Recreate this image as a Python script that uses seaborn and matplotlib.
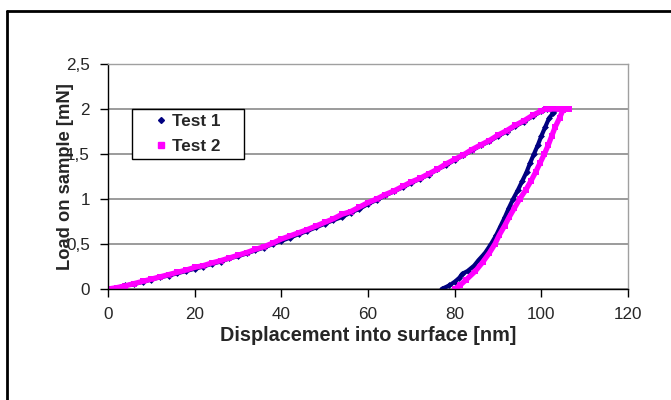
import matplotlib
matplotlib.use("Agg")
import matplotlib.pyplot as plt
from matplotlib.lines import Line2D
import seaborn as sns
import pandas as pd

# Test 1: loading branch, hold at peak load, unloading branch (displacement nm, load mN)
t1_load_x = [0, 2, 4, 6, 8, 10, 12, 14, 16, 18, 20, 22, 24, 26, 28, 30, 32, 34, 36, 38,
             40, 42, 44, 46, 48, 50, 52, 54, 56, 58, 60, 62, 64, 66, 68, 70, 72, 74, 76,
             78, 80, 82, 84, 86, 88, 90, 92, 94, 96, 98, 100, 100.6]
t1_load_y = [0.0, 0.012, 0.04, 0.055, 0.08, 0.105, 0.13, 0.15, 0.175, 0.20, 0.225, 0.25,
             0.28, 0.305, 0.34, 0.365, 0.395, 0.43, 0.46, 0.50, 0.535, 0.57, 0.61, 0.645,
             0.685, 0.725, 0.765, 0.80, 0.85, 0.89, 0.945, 0.99, 1.04, 1.085, 1.13, 1.18,
             1.225, 1.27, 1.33, 1.375, 1.435, 1.485, 1.54, 1.595, 1.64, 1.70, 1.75, 1.81,
             1.86, 1.92, 1.975, 2.0]
t1_hold_x = [101.3, 102.0, 102.7, 103.3]
t1_hold_y = [2.0, 2.0, 2.0, 2.0]
t1_unload_x = [102.8, 101.8, 100.9, 100.0, 99.2, 98.3, 97.4, 96.6, 95.6, 94.6, 93.5, 92.5,
               91.6, 90.6, 89.6, 88.4, 87.0, 85.5, 84.5, 83.0, 81.8, 81.0, 80.0, 78.8, 77.0]
t1_unload_y = [1.96, 1.90, 1.80, 1.70, 1.60, 1.50, 1.40, 1.30, 1.20, 1.10, 1.00, 0.90,
               0.80, 0.70, 0.60, 0.50, 0.40, 0.32, 0.26, 0.20, 0.17, 0.12, 0.08, 0.04, 0.0]

# Test 2
t2_load_x = [0, 2, 4, 6, 8, 10, 12, 14, 16, 18, 20, 22, 24, 26, 28, 30, 32, 34, 36, 38,
             40, 42, 44, 46, 48, 50, 52, 54, 56, 58, 60, 62, 64, 66, 68, 70, 72, 74, 76,
             78, 80, 82, 84, 86, 88, 90, 92, 94, 96, 98, 100, 101.0]
t2_load_y = [0.0, 0.015, 0.035, 0.06, 0.085, 0.11, 0.135, 0.16, 0.185, 0.21, 0.24, 0.26,
             0.29, 0.315, 0.345, 0.375, 0.405, 0.44, 0.47, 0.51, 0.555, 0.59, 0.625, 0.66,
             0.70, 0.74, 0.78, 0.83, 0.86, 0.91, 0.96, 1.00, 1.05, 1.09, 1.14, 1.19, 1.23,
             1.28, 1.33, 1.39, 1.44, 1.49, 1.55, 1.60, 1.65, 1.71, 1.76, 1.82, 1.87, 1.93,
             1.98, 2.0]
t2_hold_x = [102.0, 103.2, 104.3, 105.3, 106.3]
t2_hold_y = [2.0, 2.0, 2.0, 2.0, 2.0]
t2_unload_x = [105.0, 104.2, 103.2, 102.4, 101.6, 100.7, 99.7, 98.7, 97.6, 96.4, 95.0,
               93.8, 92.6, 91.5, 90.3, 89.3, 88.0, 86.5, 84.8, 82.6, 81.2, 80.0]
t2_unload_y = [1.99, 1.90, 1.80, 1.70, 1.60, 1.50, 1.40, 1.30, 1.20, 1.10, 1.00, 0.90,
               0.80, 0.70, 0.60, 0.50, 0.40, 0.30, 0.20, 0.10, 0.04, 0.0]

series_names = ["Test 1", "Test 2"]
x_ticks = [0, 20, 40, 60, 80, 100, 120]
y_ticks = [0, 0.5, 1, 1.5, 2, 2.5]
y_tick_labels = ["0", "0,5", "1", "1,5", "2", "2,5"]

navy = "#000080"
magenta = "#FF00FF"

t1_x = t1_load_x + t1_hold_x + t1_unload_x
t1_y = t1_load_y + t1_hold_y + t1_unload_y
t2_x = t2_load_x + t2_hold_x + t2_unload_x
t2_y = t2_load_y + t2_hold_y + t2_unload_y

df = pd.DataFrame({
    "x": t1_x + t2_x,
    "y": t1_y + t2_y,
    "test": [series_names[0]] * len(t1_x) + [series_names[1]] * len(t2_x),
})

sns.set_style("white")
plt.rcParams["font.family"] = ["Liberation Sans", "DejaVu Sans"]

fig = plt.figure(figsize=(6.71, 4.0), dpi=100)
ax = fig.add_axes([108 / 671, 1 - 289 / 400, 520 / 671, 225 / 400])

# outer chart frame (top and left edges)
fig.add_artist(Line2D([7 / 671, 1.0], [1 - 11 / 400, 1 - 11 / 400], color="black",
                      lw=2, transform=fig.transFigure))
fig.add_artist(Line2D([7 / 671, 7 / 671], [1 - 11 / 400, 0.0], color="black",
                      lw=2, transform=fig.transFigure))

palette = {series_names[0]: navy, series_names[1]: magenta}
for name, lw, ms in [(series_names[0], 3.0, 3.5), (series_names[1], 3.8, 4.2)]:
    sub = df[df["test"] == name]
    sns.lineplot(data=sub, x="x", y="y", sort=False, estimator=None, color=palette[name],
                 lw=lw, ax=ax, legend=False)
    sns.scatterplot(data=sub, x="x", y="y", color=palette[name],
                    marker="D" if name == series_names[0] else "s",
                    s=ms ** 2, linewidth=0, ax=ax, legend=False)

ax.set_xlim(0, 120)
ax.set_ylim(0, 2.5)
ax.set_xticks(x_ticks)
ax.set_xticklabels([str(v) for v in x_ticks])
ax.set_yticks(y_ticks)
ax.set_yticklabels(y_tick_labels)
ax.grid(axis="y", color="#808080", lw=1.1)
ax.set_axisbelow(True)

for side in ["top", "right"]:
    ax.spines[side].set_color("#a0a0a0")
    ax.spines[side].set_linewidth(1.0)
for side in ["left", "bottom"]:
    ax.spines[side].set_color("black")
    ax.spines[side].set_linewidth(1.0)

ax.tick_params(axis="both", direction="out", length=6, width=1, color="black",
               labelsize=12.3, bottom=True, left=True)
ax.tick_params(axis="x", pad=7)
ax.tick_params(axis="y", pad=7)

ax.set_xlabel("Displacement into surface [nm]", fontsize=14.3, fontweight="bold", labelpad=2.5)
ax.set_ylabel("Load on sample [mN]", fontsize=13.2, fontweight="bold")
ax.yaxis.set_label_coords(-0.065, 0.5)

handles = [
    Line2D([], [], ls="none", marker="D", color=navy, markersize=3),
    Line2D([], [], ls="none", marker="s", color=magenta, markersize=4),
]
leg = ax.legend(handles, series_names, loc="upper left",
                bbox_to_anchor=(0.0462, 0.582, 0.2154, 0.218), mode="expand",
                frameon=True, fancybox=False, edgecolor="black", framealpha=1,
                prop={"weight": "bold", "size": 12.3}, handlelength=2.76,
                handletextpad=-0.72, borderpad=0.31, labelspacing=0.57, borderaxespad=0)
leg.get_frame().set_linewidth(1.0)

fig.savefig("out.png", dpi=100)
